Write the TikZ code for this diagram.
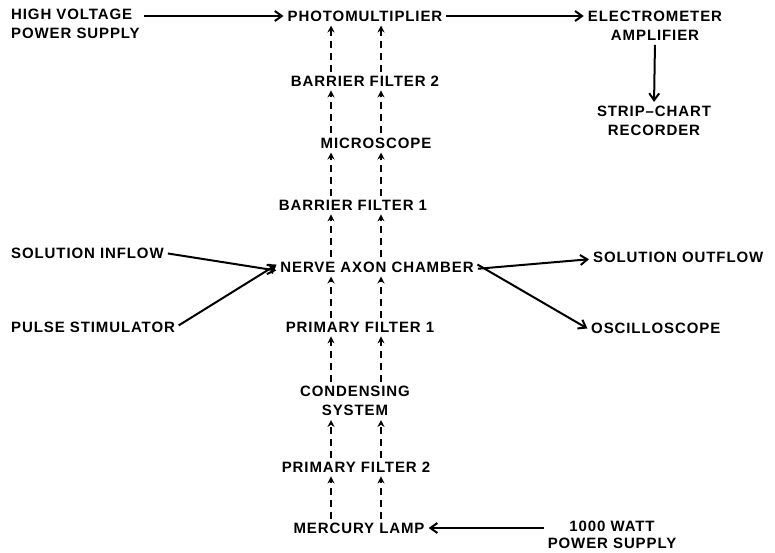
\documentclass[tikz,border=0pt]{standalone}
\usepackage{fontspec}
\setmainfont{Liberation Sans}[LetterSpace=6]
\usetikzlibrary{arrows.meta}
\begin{document}
\begin{tikzpicture}[x=1pt,y=-1pt,
  lbl/.style={font=\fontsize{15}{19}\selectfont\bfseries, inner sep=1pt, align=center},
  flow/.style={line width=2pt, -{Straight Barb[length=7pt,width=10pt,line width=2pt]}},
  light/.style={line width=2pt, dash pattern=on 7pt off 5pt, -{Stealth[length=7pt,width=7pt]}},
  shorten >=3pt, shorten <=3pt]
\useasboundingbox (0,0) rectangle (775,552);
\coordinate (cA) at (331,0);
\coordinate (cB) at (381,0);
\node[lbl,align=left,anchor=west] (hv) at (10,24) {HIGH VOLTAGE\\POWER SUPPLY};
\node[lbl] (photo) at (365,16) {PHOTOMULTIPLIER};
\node[lbl] (elec) at (655,26) {ELECTROMETER\\AMPLIFIER};
\node[lbl] (strip) at (654,121) {STRIP--CHART\\RECORDER};
\node[lbl] (bf2) at (365,81) {BARRIER FILTER 2};
\node[lbl] (mic) at (376,143) {MICROSCOPE};
\node[lbl] (bf1) at (353,205) {BARRIER FILTER 1};
\node[lbl] (nac) at (377,267) {NERVE AXON CHAMBER};
\node[lbl] (pf1) at (360,327) {PRIMARY FILTER 1};
\node[lbl] (cond) at (355,401) {CONDENSING\\SYSTEM};
\node[lbl] (pf2) at (356,467) {PRIMARY FILTER 2};
\node[lbl] (merc) at (359,528) {MERCURY LAMP};
\node[lbl,anchor=west] (inflow) at (10,253) {SOLUTION INFLOW};
\node[lbl,anchor=west] (pulse) at (10,327) {PULSE STIMULATOR};
\node[lbl,anchor=west] (outflow) at (592,257) {SOLUTION OUTFLOW};
\node[lbl,anchor=west] (osc) at (590,328) {OSCILLOSCOPE};
\node[lbl,font=\fontsize{15}{17}\selectfont\bfseries,anchor=north] (watt) at (612,520) {1000 WATT\\POWER SUPPLY};
% solid arrows
\draw[flow] (hv.east |- photo) -- (photo.west);
\draw[flow] (photo.east) -- (elec.west |- photo);
\draw[flow] (elec.south) -- (strip.north);
\draw[flow] (inflow.east) -- ([yshift=-4pt]nac.west);
\draw[flow] (pulse.east) -- ([yshift=4pt]nac.west);
\draw[flow] ([yshift=-2pt]nac.east) -- ([yshift=-2pt]outflow.west);
\draw[flow] ([yshift=4pt]nac.east) -- ([yshift=-2pt]osc.west);
\draw[flow] (watt.west |- merc) -- (merc.east);
% dashed light paths
\foreach \lo/\hi in {merc/pf2, pf2/cond, cond/pf1, pf1/nac, nac/bf1, bf1/mic, mic/bf2, bf2/photo}{
  \draw[light] (\lo.north -| cA) -- (\hi.south -| cA);
  \draw[light] (\lo.north -| cB) -- (\hi.south -| cB);
}
\end{tikzpicture}
\end{document}
